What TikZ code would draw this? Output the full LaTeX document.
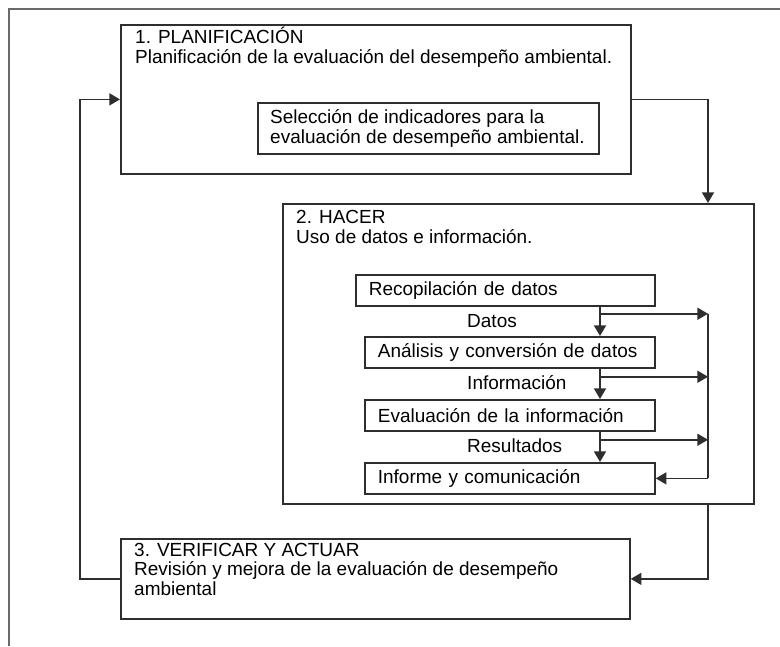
\documentclass[tikz,border=0pt]{standalone}
\usepackage{fontspec}
\setmainfont{Liberation Sans}
\usetikzlibrary{arrows.meta}
\definecolor{linegray}{HTML}{2E2E2E}
\definecolor{framegray}{HTML}{6A6A6A}
\tikzset{
  phase/.style={draw=linegray, line width=1.5pt, inner sep=0pt, anchor=north west},
  stage/.style={draw=linegray, line width=1.5pt, anchor=north west,
                minimum height=9.3mm, inner xsep=3.9mm, inner ysep=0pt,
                align=left, font=\fontsize{16.2}{16.5}\selectfont},
  txt/.style={inner sep=0pt, anchor=base west, align=left,
              font=\fontsize{16.2}{16.5}\selectfont},
  link/.style={draw=linegray, line width=1.5pt},
  flow/.style={link, -{Triangle[length=3.2mm, width=3.6mm]}},
}

\begin{document}
\begin{tikzpicture}[x=0.3mm, y=-0.3mm]
  \useasboundingbox (0,0) rectangle (780,646);
  % page frame
  \draw[framegray, line width=1.2pt] (9,646) -- (9,9) -- (780,9);

  \coordinate (leftx) at (80,0);
  \coordinate (dropx) at (600,0);
  \coordinate (busx) at (708,0);

  % 1. planificacion
  \node[phase, minimum width=153mm, minimum height=44.7mm] (plan) at (120,24) {};
  \node[txt] (plantxt) at (135,63) {1. PLANIFICACIÓN\\Planificación de la evaluación del desempeño ambiental.};
  \node[phase, minimum width=102.3mm, minimum height=15.3mm] (select) at (257,102) {};
  \node[txt] (seltxt) at (270,143) {Selección de indicadores para la\\evaluación de desempeño ambiental.};

  % 2. hacer
  \node[phase, minimum width=141.3mm, minimum height=90mm] (hacer) at (282,203) {};
  \node[txt] (hacertxt) at (296,243) {2. HACER\\Uso de datos e información.};

  \node[stage, text width=81.9mm] (recop) at (355,274) {Recopilación de datos};
  \node[stage, text width=79.2mm] (anal) at (364,336) {Análisis y conversión de datos};
  \node[stage, text width=79.2mm] (evalu) at (364,399) {Evaluación de la información};
  \node[stage, text width=79.2mm] (inform) at (364,462) {Informe y comunicación};

  \node[txt] (datos) at (467,327) {Datos};
  \node[txt] (infor) at (467,389) {Información};
  \node[txt] (resul) at (467,452) {Resultados};

  \draw[flow] (recop.south -| dropx) -- (anal.north -| dropx);
  \draw[flow] (anal.south -| dropx) -- (evalu.north -| dropx);
  \draw[flow] (evalu.south -| dropx) -- (inform.north -| dropx);

  \draw[flow] (recop.south -| dropx) ++(0,7) coordinate (br1) -- (br1 -| busx);
  \draw[flow] (anal.south -| dropx) ++(0,8) coordinate (br2) -- (br2 -| busx);
  \draw[flow] (evalu.south -| dropx) ++(0,8) coordinate (br3) -- (br3 -| busx);
  \draw[link] (br1 -| busx) -- (inform.east -| busx);
  \draw[flow] (inform.east -| busx) -- (inform.east);

  % 3. verificar y actuar
  \node[phase, minimum width=152.7mm, minimum height=24mm] (verif) at (120,538) {};
  \node[txt] (veriftxt) at (134,595) {3. VERIFICAR Y ACTUAR\\Revisión y mejora de la evaluación de desempeño\\ambiental};

  % ciclo
  \draw[flow] (plan.east) -| (hacer.north -| busx);
  \draw[flow] (hacer.south -| busx) |- (verif.east);
  \draw[flow] (verif.west) -- (verif.west -| leftx) |- (plan.west);
\end{tikzpicture}
\end{document}
